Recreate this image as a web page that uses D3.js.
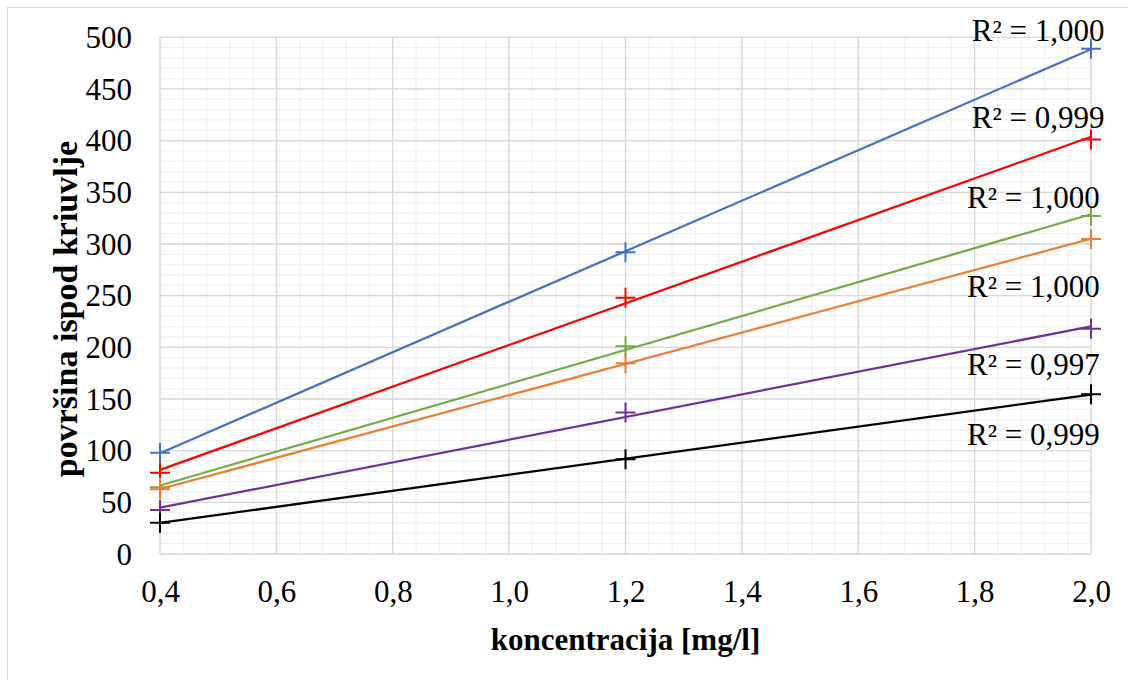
<!DOCTYPE html>
<html><head><meta charset="utf-8">
<script src="https://cdn.jsdelivr.net/npm/d3@7"></script>
<style>body{margin:0;background:#fff}svg{display:block}</style>
</head><body>
<svg id="c" width="1128" height="680"></svg>
<script>
// ---- data ----
const xValues = [0.4, 1.2, 2.0];
const seriesNames = ["blue", "red", "green", "orange", "purple", "black"];
const seriesColors = ["#4472C4", "#FF0000", "#70AD47", "#ED7D31", "#7030A0", "#000000"];
const blueY   = [98, 292, 489];
const redY    = [78.7, 248, 401];
const greenY  = [64.5, 201, 327];
const orangeY = [62.6, 184.5, 304.8];
const purpleY = [42.6, 137, 218];
const blackY  = [30.3, 91.6, 154.5];
const r2Labels = ["R² = 1,000", "R² = 0,999", "R² = 1,000", "R² = 1,000", "R² = 0,997", "R² = 0,999"];
// label anchors in data units (x of text start, y of baseline)
const labelX = [1.795, 1.795, 1.787, 1.787, 1.787, 1.787];
const labelY = [496.4, 411.9, 334.8, 249, 173.2, 105.5];
const xTicks = [0.4, 0.6, 0.8, 1.0, 1.2, 1.4, 1.6, 1.8, 2.0];
const yTicks = [0, 50, 100, 150, 200, 250, 300, 350, 400, 450, 500];
const xTitle = "koncentracija [mg/l]";
const yTitle = "površina ispod kriuvlje";

const allY = [blueY, redY, greenY, orangeY, purpleY, blackY];

// ---- layout ----
const svg = d3.select("#c");
const L = 160, R = 1091, T = 37.3, B = 554;
const x = d3.scaleLinear().domain([0.4, 2.0]).range([L, R]);
const y = d3.scaleLinear().domain([0, 500]).range([B, T]);
const font = "'Liberation Serif','Times New Roman',serif";

// outer border
svg.append("rect").attr("x", 7.5).attr("y", 7.5).attr("width", 1200).attr("height", 700)
  .attr("fill", "#fff").attr("stroke", "#d9d9d9").attr("stroke-width", 1);

// minor grid
const g = svg.append("g");
const xMinor = d3.range(0, 41).map(i => 0.4 + i * 0.04);
const yMinor = d3.range(0, 51).map(i => i * 10);
g.selectAll(".xm").data(xMinor).join("line")
  .attr("x1", d => x(d)).attr("x2", d => x(d)).attr("y1", T).attr("y2", B)
  .attr("stroke", "#f2f2f2").attr("stroke-width", 1.3);
g.selectAll(".ym").data(yMinor).join("line")
  .attr("y1", d => y(d)).attr("y2", d => y(d)).attr("x1", L).attr("x2", R)
  .attr("stroke", "#f2f2f2").attr("stroke-width", 1.3);
// major grid
g.selectAll(".xM").data(xTicks).join("line")
  .attr("x1", d => x(d)).attr("x2", d => x(d)).attr("y1", T).attr("y2", B)
  .attr("stroke", "#d9d9d9").attr("stroke-width", 1.3);
g.selectAll(".yM").data(yTicks).join("line")
  .attr("y1", d => y(d)).attr("y2", d => y(d)).attr("x1", L).attr("x2", R)
  .attr("stroke", "#d9d9d9").attr("stroke-width", 1.3);

// axes labels via d3 axes
const fmt = d => d3.format(".1f")(d).replace(".", ",");
const xAxis = svg.append("g").attr("transform", `translate(0,${B})`)
  .call(d3.axisBottom(x).tickValues(xTicks).tickFormat(fmt).tickSize(0).tickPadding(26));
const yAxis = svg.append("g").attr("transform", `translate(${L},0)`)
  .call(d3.axisLeft(y).tickValues(yTicks).tickSize(0).tickPadding(28));
[xAxis, yAxis].forEach(a => {
  a.select(".domain").remove();
  a.selectAll("text").attr("font-family", font).attr("font-size", 31).attr("fill", "#000");
});
yAxis.selectAll("text").attr("dy", "0.33em");
xAxis.selectAll("text").attr("dy", "0.71em");

// titles
svg.append("text").attr("x", (L + R) / 2).attr("y", 650).attr("text-anchor", "middle")
  .attr("font-family", font).attr("font-size", 31).attr("font-weight", "bold").text(xTitle);
svg.append("text").attr("transform", `translate(77,309) rotate(-90)`)
  .attr("text-anchor", "middle")
  .attr("font-family", font).attr("font-size", 34).attr("font-weight", "bold").text(yTitle);

// regression
function linreg(xs, ys) {
  const mx = d3.mean(xs), my = d3.mean(ys);
  let sxy = 0, sxx = 0;
  xs.forEach((v, i) => { sxy += (v - mx) * (ys[i] - my); sxx += (v - mx) * (v - mx); });
  const b = sxy / sxx; return { a: my - b * mx, b };
}

const plot = svg.append("g");
allY.forEach((ys, si) => {
  const col = seriesColors[si];
  const pts = xValues.map((xv, i) => [xv, ys[i]]);
  // markers
  plot.append("g").selectAll("path").data(pts).join("path")
    .attr("d", d => `M${x(d[0]) - 10},${y(d[1])}H${x(d[0]) + 10}M${x(d[0])},${y(d[1]) - 10}V${y(d[1]) + 10}`)
    .attr("stroke", col).attr("stroke-width", 2).attr("fill", "none");
  // trendline
  const { a, b } = linreg(xValues, ys);
  const line = d3.line().x(d => x(d)).y(d => y(a + b * d));
  plot.append("path").datum([0.4, 2.0]).attr("d", line)
    .attr("stroke", col).attr("stroke-width", 2.25).attr("fill", "none");
});

// R² labels
svg.append("g").selectAll("text").data(r2Labels).join("text")
  .attr("x", (d, i) => x(labelX[i])).attr("y", (d, i) => y(labelY[i]))
  .attr("font-family", font).attr("font-size", 31).attr("fill", "#000").text(d => d);
</script>
</body></html>
